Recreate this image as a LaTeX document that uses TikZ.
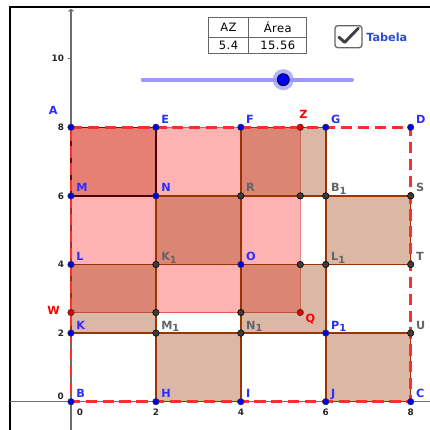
\documentclass[tikz,border=0pt]{standalone}
\usepackage{fontspec}
\setmainfont{DejaVu Sans}
\newfontfamily\tabfont[LetterSpace=4]{DejaVu Sans}
\usepackage{xcolor}
\usepackage{tikz}
\usetikzlibrary{
  arrows.meta,
  positioning,
  calc
}
\definecolor{cellbrown}{RGB}{153,51,0}
\definecolor{ptblue}{RGB}{0,0,240}
\definecolor{lblblue}{RGB}{45,45,255}
\definecolor{ptgray}{RGB}{60,60,60}
\definecolor{lblgray}{RGB}{100,100,100}
\definecolor{dashred}{RGB}{255,45,45}
\definecolor{sliderblue}{RGB}{153,153,255}
\definecolor{tabblue}{RGB}{45,75,210}
\definecolor{axisgray}{RGB}{110,110,110}
\newcommand{\subone}{\raisebox{-0.4ex}{\fontsize{7}{7}\selectfont 1}}
\tikzset{
  tancell/.style={fill=cellbrown, fill opacity=0.35, draw=cellbrown, draw opacity=1, line width=1.1pt},
  pinkrect/.style={fill=red, fill opacity=0.3, draw=red!80!black, draw opacity=0.5, line width=0.9pt},
  dashsq/.style={draw=dashred, line width=1.8pt, dash pattern=on 8pt off 4pt},
  bluept/.style={fill=ptblue, draw=black!80, line width=0.4pt},
  graypt/.style={fill=ptgray, draw=black, line width=0.4pt},
  redpt/.style={fill=red!90!black, draw=black!80, line width=0.4pt},
  lblue/.style={text=lblblue, inner sep=0pt, anchor=base west, xshift=3.6pt, yshift=2.8pt},
  lgray/.style={text=lblgray, inner sep=0pt, anchor=base west, xshift=3.6pt, yshift=2.8pt},
  lred/.style={text=red, inner sep=0pt},
  ticklab/.style={text=black!85, inner sep=0pt, font=\fontsize{6.3}{7}\selectfont\bfseries},
  tabtext/.style={font=\tabfont\fontsize{8.2}{10}\selectfont, inner sep=0pt}
}
\begin{document}
\begin{tikzpicture}[x=1.0615cm, y=0.8575cm, font=\fontsize{8}{9.6}\selectfont\bfseries]
\useasboundingbox (-1.672,-0.825) rectangle (8.455,11.711);

% frame and axes
\draw[line width=1.2pt] (-1.437,-0.825) |- (8.455,11.507);
\draw[axisgray, line width=0.8pt] (-1.437,0) -- (8.455,0);
\draw[axisgray, line width=0.8pt, -{To[length=2pt,width=4pt]}] (0,-0.825) -- (0,11.45);
\foreach \y in {2,4,...,10}{
  \draw[axisgray, line width=0.6pt] (-0.08,\y) -- (0,\y);
  \node[ticklab, anchor=east] (ty\y) at (-0.16,\y) {\y};
}
\node[ticklab] (ty0) at (-0.24,0.15) {0};
\node[ticklab] (tx0) at (0.21,-0.3) {0};
\foreach \x in {2,4,6,8}{
  \node[ticklab] (tx\x) at (\x,-0.3) {\x};
}

% grid points
\coordinate (A) at (0,8);   \coordinate (E) at (2,8);    \coordinate (F) at (4,8);
\coordinate (Z) at (5.4,8); \coordinate (G) at (6,8);    \coordinate (D) at (8,8);
\coordinate (M) at (0,6);   \coordinate (N) at (2,6);    \coordinate (R) at (4,6);
\coordinate (Z6) at (5.4,6);\coordinate (B1) at (6,6);   \coordinate (S) at (8,6);
\coordinate (L) at (0,4);   \coordinate (K1) at (2,4);   \coordinate (O) at (4,4);
\coordinate (Z4) at (5.4,4);\coordinate (L1) at (6,4);   \coordinate (T) at (8,4);
\coordinate (W) at (0,2.6); \coordinate (W2) at (2,2.6); \coordinate (W4) at (4,2.6);
\coordinate (Q) at (5.4,2.6);
\coordinate (K) at (0,2);   \coordinate (M1) at (2,2);   \coordinate (N1) at (4,2);
\coordinate (P1) at (6,2);  \coordinate (U) at (8,2);
\coordinate (B) at (0,0);   \coordinate (H) at (2,0);    \coordinate (I) at (4,0);
\coordinate (J) at (6,0);   \coordinate (C) at (8,0);

% corner cell, then the rectangle AZQW, then the other cells
\filldraw[tancell, draw=black, line width=0.9pt] (A) -- (E) -- (N) -- (M) -- cycle;
\filldraw[pinkrect] (A) -- (Z) -- (Q) -- (W) -- cycle;
\filldraw[tancell] (F) -- (G) -- (B1) -- (R) -- cycle;
\filldraw[tancell] (N) -- (R) -- (O) -- (K1) -- cycle;
\filldraw[tancell] (B1) -- (S) -- (T) -- (L1) -- cycle;
\filldraw[tancell] (L) -- (K1) -- (M1) -- (K) -- cycle;
\filldraw[tancell] (O) -- (L1) -- (P1) -- (N1) -- cycle;
\filldraw[tancell] (M1) -- (N1) -- (I) -- (H) -- cycle;
\filldraw[tancell] (P1) -- (U) -- (C) -- (J) -- cycle;

% big square ABCD
\draw[dashsq] (A) -- (D) -- (C) -- (B) -- cycle;

% points
\foreach \p in {A,E,F,G,D,M,N,L,O,K,P1,B,H,I,J,C}
  \filldraw[bluept] (\p) circle (2.3pt);
\foreach \p in {R,Z6,B1,S,K1,Z4,L1,T,W2,W4,M1,N1,U}
  \filldraw[graypt] (\p) circle (2.3pt);
\foreach \p in {Z,W,Q}
  \filldraw[redpt] (\p) circle (2.3pt);

% labels
\foreach \p/\t in {E/E,F/F,G/G,D/D,M/M,N/N,L/L,O/O,K/K,P1/P\subone,B/B,H/H,I/I,J/J,C/C}
  \node[lblue] (lab-\p) at (\p) {\t};
\foreach \p/\t in {R/R,B1/B\subone,S/S,K1/K\subone,L1/L\subone,T/T,M1/M\subone,N1/N\subone,U/U}
  \node[lgray] (lab-\p) at (\p) {\t};
\node[lblue, anchor=base east, xshift=-13pt, yshift=6.4pt] (lab-A) at (A) {A};
\node[lred, anchor=base, xshift=2.3pt, yshift=5.9pt] (lab-Z) at (Z) {Z};
\node[lred, anchor=base east, xshift=-7.8pt, yshift=-1.6pt] (lab-W) at (W) {W};
\node[lred, anchor=base west, xshift=3.6pt, yshift=-6.8pt] (lab-Q) at (Q) {Q};

% slider
\coordinate (s0) at (1.689,9.388);
\coordinate (s1) at (6.618,9.388);
\coordinate (knob) at (5.0,9.388);
\draw[sliderblue, line width=2.8pt, line cap=round] (s0) -- (s1);
\fill[sliderblue, opacity=0.75] (knob) circle (7.5pt);
\filldraw[fill=ptblue, draw=black, line width=0.5pt] (knob) circle (4.3pt);

% table
\coordinate (tab-sw) at (3.227,10.14);
\coordinate (tab-ne) at (5.551,11.21);
\coordinate (tab-w) at (3.227,10.62);
\coordinate (tab-e) at (5.551,10.62);
\coordinate (tab-n) at (4.192,11.21);
\coordinate (tab-s) at (4.192,10.14);
\draw[black!60, line width=0.7pt] (tab-sw) rectangle (tab-ne);
\draw[black!60, line width=0.7pt] (tab-w) -- (tab-e);
\draw[black!60, line width=0.7pt] (tab-n) -- (tab-s);
\node[tabtext] (az) at (3.71,10.915) {AZ};
\node[tabtext] (area) at (4.87,10.915) {Área};
\node[tabtext] (azval) at (3.71,10.38) {5.4};
\node[tabtext] (areaval) at (4.87,10.38) {15.56};

% checkbox
\coordinate (cb-sw) at (6.218,10.321);
\coordinate (cb-ne) at (6.853,10.962);
\draw[black!60, line width=0.9pt, rounded corners=2pt] (cb-sw) rectangle (cb-ne);
\coordinate (ck1) at (6.312,10.624);
\coordinate (ck2) at (6.446,10.478);
\coordinate (ck3) at (6.766,10.886);
\draw[black!75, line width=2.1pt, line cap=round, line join=round] (ck1) -- (ck2) -- (ck3);
\node[text=tabblue, anchor=west, inner sep=0pt] (tabela) at (6.948,10.633) {Tabela};
\end{tikzpicture}
\end{document}
